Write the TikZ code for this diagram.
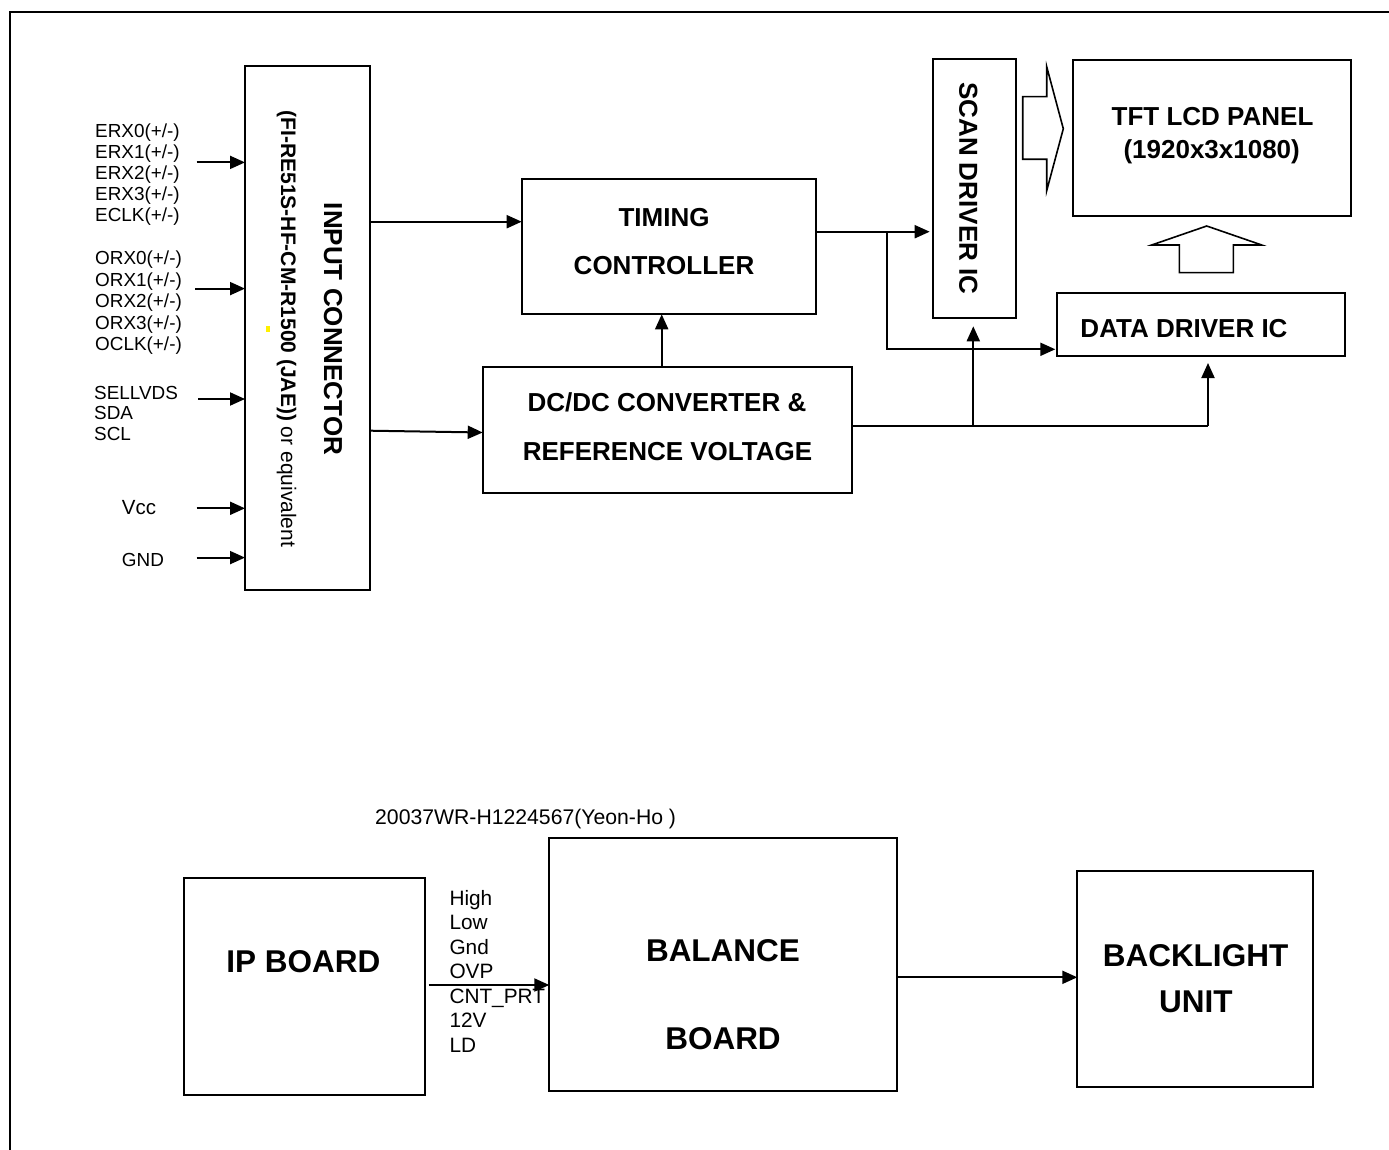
\documentclass[tikz,border=0pt]{standalone}
\usepackage{fontspec}
\setmainfont{Liberation Sans}
\usetikzlibrary{arrows.meta,calc}
\definecolor{ymark}{RGB}{255,240,0}
\begin{document}
\begin{tikzpicture}[x=1pt,y=-1pt,
  box/.style={draw, line width=2.3pt, inner sep=0pt, outer sep=0pt, rectangle},
  arr/.style={line width=2pt, -{Triangle[length=15pt,width=13pt]}},
  ln/.style={line width=2pt},
  lbl/.style={font=\fontsize{18.9}{22}\selectfont, inner sep=0pt, anchor=base west},
  blbl/.style={font=\fontsize{20.8}{24}\selectfont, inner sep=0pt, anchor=base west},
  btxt/.style={font=\bfseries\fontsize{26}{30}\selectfont, inner sep=0pt, anchor=base},
  bbig/.style={font=\bfseries\fontsize{31.5}{36}\selectfont, inner sep=0pt, anchor=base},
  hollow/.style={draw, line width=1.6pt, line join=miter}
]
\useasboundingbox (0,0) rectangle (1389,1150);
% outer frame
\draw[line width=2pt] (1389,12) -- (10,12) -- (10,1150);

% ---------- boxes ----------
\node[box, minimum width=125pt, minimum height=524pt] (inconn) at (307.5,328) {};
\node[box, minimum width=294.3pt, minimum height=135pt] (tcon) at (668.85,246.8) {};
\node[box, minimum width=369.6pt, minimum height=126.6pt] (dcdc) at (667.5,430) {};
\node[box, minimum width=83pt, minimum height=259pt] (scan) at (974.2,188.8) {};
\node[box, minimum width=277.4pt, minimum height=155.7pt] (panel) at (1212,137.85) {};
\node[box, minimum width=287.7pt, minimum height=63.3pt] (ddrv) at (1201.15,324.35) {};
\node[box, minimum width=241pt, minimum height=216.7pt] (ipb) at (304.5,986.65) {};
\node[box, minimum width=347.7pt, minimum height=252.7pt] (bal) at (723.15,964.65) {};
\node[box, minimum width=236pt, minimum height=216.3pt] (blu) at (1195.3,979.15) {};

% ---------- box texts ----------
\node[rotate=-90, font=\bfseries\fontsize{26}{30}\selectfont, inner sep=0pt] (inconnT) at (333,329) {INPUT CONNECTOR};
\node[rotate=-90, anchor=base, font=\fontsize{21}{25}\selectfont, inner sep=0pt] (inconnS) at (281,329) {\textbf{(FI-RE51S-HF-CM-R1500 (JAE))} or equivalent};
\fill[ymark] (265.7,325.5) rectangle (270,332.4);

\node[btxt] (tconA) at (664,226.7) {TIMING};
\node[btxt] (tconB) at (664,275) {CONTROLLER};
\node[btxt] (dcdcA) at (667,411.7) {DC/DC CONVERTER \&};
\node[btxt] (dcdcB) at (667.5,460) {REFERENCE VOLTAGE};
\node[rotate=-90, font=\bfseries\fontsize{26}{30}\selectfont, inner sep=0pt] (scanT) at (968.3,188.3) {SCAN DRIVER IC};
\node[btxt] (panelA) at (1212.5,126) {TFT LCD PANEL};
\node[btxt] (panelB) at (1211.7,158.3) {(1920x3x1080)};
\node[btxt] (ddrvT) at (1184,337.3) {DATA DRIVER IC};

\node[bbig] (ipbT) at (303.3,972.7) {IP BOARD};
\node[bbig] (balA) at (723,961) {BALANCE};
\node[bbig] (balB) at (723,1049.3) {BOARD};
\node[bbig] (bluA) at (1195.5,966) {BACKLIGHT};
\node[bbig] (bluB) at (1195.8,1012.7) {UNIT};

% ---------- input labels ----------
\foreach \t [count=\i] in {ERX0(+/-),ERX1(+/-),ERX2(+/-),ERX3(+/-),ECLK(+/-)}
  \node[lbl] (erx\i) at (95,{137.1+21.1*(\i-1)}) {\t};
\foreach \t [count=\i] in {ORX0(+/-),ORX1(+/-),ORX2(+/-),ORX3(+/-),OCLK(+/-)}
  \node[lbl] (orx\i) at (95,{264.7+21.55*(\i-1)}) {\t};
\foreach \t [count=\i] in {SELLVDS,SDA,SCL}
  \node[lbl] (ctl\i) at (94,{399.2+20.65*(\i-1)}) {\t};
\node[lbl, font=\fontsize{20.5}{24}\selectfont] (vccT) at (121.7,514.5) {Vcc};
\node[lbl] (gndT) at (121.7,566.4) {GND};

% input arrows
\foreach \yy/\xx [count=\i] in {162.4/196.7, 288.6/195, 399/198.3, 508.3/196.7, 557.6/196.7} {
  \coordinate (in\i) at (\xx,\yy);
  \draw[arr] (in\i) -- (in\i -| inconn.west);
}

% ---------- connectors ----------
\draw[arr] (inconn.east |- 0,221.7) -- (tcon.west |- 0,221.7);
\draw[arr] (inconn.east |- 0,430.7) -- (dcdc.west |- 0,432.5);
\draw[arr] (dcdc.north -| 661.7,0) -- (tcon.south -| 661.7,0);

\coordinate (ja) at (887,231.7);
\draw[arr] (tcon.east |- ja) -- ([xshift=-3pt]scan.west |- ja);
\draw[arr] (ja) -- (887,349.3) -- ([xshift=-2pt]ddrv.west |- 0,349.3);

\coordinate (jb) at (973.3,426);
\coordinate (jc) at (1208,426);
\draw[ln] (dcdc.east |- jb) -- (jc);
\draw[arr] (jb) -- ([yshift=-8pt]scan.south -| jb);
\draw[arr] (jc) -- ([yshift=-7pt]ddrv.south -| jc);

% hollow arrows
\draw[hollow] (1022.7,96.7) -- (1046.7,96.7) -- (1046.7,66.7) -- (1063.3,128.7)
  -- (1046.7,190.7) -- (1046.7,159.3) -- (1022.7,159.3) -- cycle;
\draw[hollow] (1179.3,272.7) -- (1179.3,245) -- (1151.7,245) -- (1206.7,226)
  -- (1261.7,245) -- (1233.3,245) -- (1233.3,272.7) -- cycle;

% ---------- bottom ----------
\node[font=\fontsize{21.2}{24}\selectfont, inner sep=0pt, anchor=base west] (code) at (375,824) {20037WR-H1224567(Yeon-Ho )};
\foreach \t [count=\i] in {High,Low,Gnd,OVP,CNT\_PRT,12V,LD}
  \node[blbl] (sig\i) at (449.3,{905.3+24.45*(\i-1)}) {\t};
\draw[arr] ([xshift=3.5pt]ipb.east |- 0,985) -- (bal.west |- 0,985);
\draw[arr] (bal.east |- 0,977.3) -- (blu.west |- 0,977.3);
\end{tikzpicture}
\end{document}
